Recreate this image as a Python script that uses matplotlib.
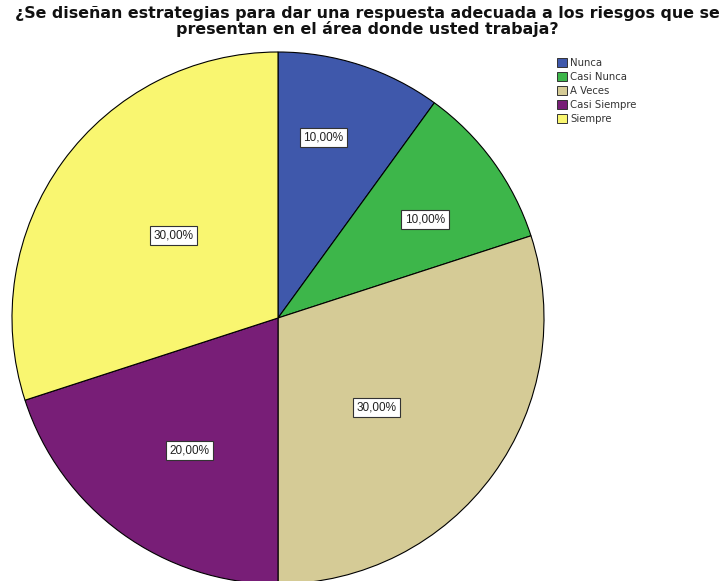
import numpy as np
import matplotlib.pyplot as plt
from matplotlib.patches import Patch

plt.rcParams['font.family'] = ['Liberation Sans', 'DejaVu Sans']

titulo = ('¿Se diseñan estrategias para dar una respuesta adecuada a los riesgos que se\n'
          'presentan en el área donde usted trabaja?')
categorias = ['Nunca', 'Casi Nunca', 'A Veces', 'Casi Siempre', 'Siempre']
porcentajes = [10.0, 10.0, 30.0, 20.0, 30.0]
colores = ['#3f58ab', '#3db64a', '#d5cb96', '#781e77', '#f9f670']
# where each value label sits: fraction along the wedge's arc and
# distance from the centre as a fraction of the radius
frac_angulo = [0.39, 0.56, 0.56, 0.47, 0.52]
dist_etiqueta = [0.70, 0.665, 0.50, 0.60, 0.50]

W, H = 728, 581
fig = plt.figure(figsize=(W / 100, H / 100), dpi=100)
ax = fig.add_axes([0, 0, 1, 1])
ax.set_aspect('equal')
ax.axis('off')

centro = (278, H - 318)
radio = 266
wedges, _ = ax.pie(porcentajes, colors=colores, startangle=90, counterclock=False,
                   center=centro, radius=radio,
                   wedgeprops=dict(edgecolor='black', linewidth=0.8))
ax.set_xlim(0, W)
ax.set_ylim(0, H)

for w, p, f, d in zip(wedges, porcentajes, frac_angulo, dist_etiqueta):
    # clockwise pie: theta2 is where the wedge starts
    ang = np.deg2rad(w.theta2 - f * (w.theta2 - w.theta1))
    x = centro[0] + d * radio * np.cos(ang)
    y = centro[1] + d * radio * np.sin(ang)
    ax.text(x, y, f'{p:.2f}%'.replace('.', ','), ha='center', va='center', fontsize=8.5,
            color='#222222',
            bbox=dict(boxstyle='square,pad=0.3', facecolor='white', edgecolor='#333333', linewidth=0.8))

fig.text(367 / W, 1 - 6 / H, titulo, ha='center', va='top', fontsize=11.4, fontweight='bold',
         family='DejaVu Sans', linespacing=1.0, color='#111111')

handles = [Patch(facecolor=c, edgecolor='#333333', linewidth=0.7) for c in colores]
fig.legend(handles, categorias, loc='upper left', bbox_to_anchor=(557 / W, 1 - 58 / H),
           frameon=False, prop=dict(family='DejaVu Sans', size=7.3), labelcolor='#333333',
           handlelength=0.95, handleheight=1.0, handletextpad=0.35, labelspacing=0.4,
           borderaxespad=0, borderpad=0)

fig.savefig('out.png', dpi=100)
